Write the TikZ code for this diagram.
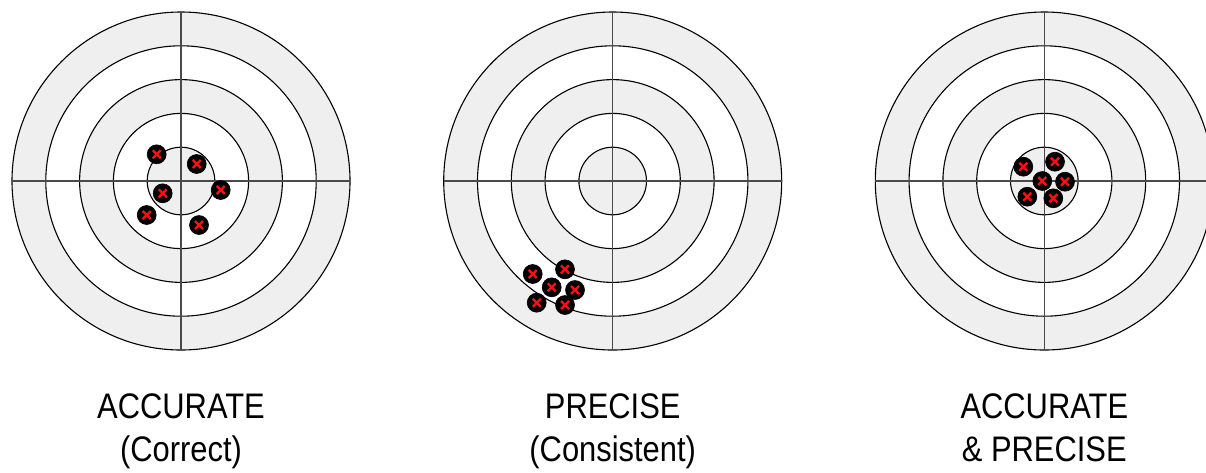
\documentclass[tikz,border=0pt]{standalone}
\usepackage{fontspec}
\newfontfamily\labelfont[FakeStretch=0.87]{Liberation Sans}
\usetikzlibrary{positioning}
\definecolor{ringGray}{HTML}{EFEFEF}
\definecolor{hairGray}{HTML}{4A4A4A}
\definecolor{hitRed}{HTML}{FF1010}

\begin{document}
\begin{tikzpicture}[
  x=1pt, y=-1pt,
  ringline/.style={
    draw=black,
    line width=1.1pt
  },
  crossline/.style={
    draw=hairGray,
    line width=1.5pt
  },
  hit/.style={
    circle,
    fill=black,
    draw=black,
    line width=0.6pt,
    minimum size=19pt,
    inner sep=0pt,
    path picture={
      \draw[hitRed, line width=2.3pt]
        ([shift={(-4pt,-4pt)}]path picture bounding box.center) --
        ([shift={(4pt,4pt)}]path picture bounding box.center)
        ([shift={(-4pt,4pt)}]path picture bounding box.center) --
        ([shift={(4pt,-4pt)}]path picture bounding box.center);
    }
  },
  caption/.style={
    font=\labelfont\fontsize{35.5}{43}\selectfont,
    align=center,
    anchor=base,
    inner sep=0pt
  }
]

  \useasboundingbox (0,0) rectangle (1206,472);
  \clip (0,0) rectangle (1206,472);

  % ----------------------------------------------------
  % THE THREE TARGETS
  % ----------------------------------------------------
  \coordinate (tgt_acc)  at (181,181);
  \coordinate (tgt_prec) at (612.7,181);
  \coordinate (tgt_both) at (1044.3,181);

  \foreach \tgt in {tgt_acc, tgt_prec, tgt_both} {
    \fill[ringGray] (\tgt) circle[radius=169pt];
    \fill[white]    (\tgt) circle[radius=135.2pt];
    \fill[ringGray] (\tgt) circle[radius=101.4pt];
    \fill[white]    (\tgt) circle[radius=67.6pt];
    \fill[ringGray] (\tgt) circle[radius=33.8pt];
    \foreach \r in {33.8, 67.6, 101.4, 135.2, 169}
      \draw[ringline] (\tgt) circle[radius=\r pt];
    \draw[crossline] ([shift={(0,-169)}]\tgt) -- ([shift={(0,169)}]\tgt);
    \draw[crossline] ([shift={(-169,0)}]\tgt) -- ([shift={(169,0)}]\tgt);
  }

  % ----------------------------------------------------
  % HITS: ACCURATE (spread round the centre)
  % ----------------------------------------------------
  \node[hit] (acc_h1) at ([shift={(-24.3,-26.7)}]tgt_acc) {};
  \node[hit] (acc_h2) at ([shift={(15.7,-17)}]tgt_acc) {};
  \node[hit] (acc_h3) at ([shift={(-18.3,12.3)}]tgt_acc) {};
  \node[hit] (acc_h4) at ([shift={(39.7,9)}]tgt_acc) {};
  \node[hit] (acc_h5) at ([shift={(-34.3,34)}]tgt_acc) {};
  \node[hit] (acc_h6) at ([shift={(18,44)}]tgt_acc) {};

  % ----------------------------------------------------
  % HITS: PRECISE (tight group, off centre)
  % ----------------------------------------------------
  \node[hit] (prec_h1) at ([shift={(-80,93)}]tgt_prec) {};
  \node[hit] (prec_h2) at ([shift={(-47.7,88.3)}]tgt_prec) {};
  \node[hit] (prec_h3) at ([shift={(-61,106.3)}]tgt_prec) {};
  \node[hit] (prec_h4) at ([shift={(-37.7,109)}]tgt_prec) {};
  \node[hit] (prec_h5) at ([shift={(-76,121.7)}]tgt_prec) {};
  \node[hit] (prec_h6) at ([shift={(-47.7,124)}]tgt_prec) {};

  % ----------------------------------------------------
  % HITS: ACCURATE & PRECISE (tight group on the centre)
  % ----------------------------------------------------
  \node[hit] (both_h1) at ([shift={(-21,-14.3)}]tgt_both) {};
  \node[hit] (both_h2) at ([shift={(10.7,-19.3)}]tgt_both) {};
  \node[hit] (both_h3) at ([shift={(-2,0)}]tgt_both) {};
  \node[hit] (both_h4) at ([shift={(20.7,0.7)}]tgt_both) {};
  \node[hit] (both_h5) at ([shift={(-17,15.7)}]tgt_both) {};
  \node[hit] (both_h6) at ([shift={(9,17.3)}]tgt_both) {};

  % Captions
  \node[caption] (lbl_acc)  at (181,461.5)  {ACCURATE\\(Correct)};
  \node[caption] (lbl_prec) at (612.7,461.5) {PRECISE\\(Consistent)};
  \node[caption] (lbl_both) at (1044.3,461.5) {ACCURATE\\\& PRECISE};

\end{tikzpicture}
\end{document}
